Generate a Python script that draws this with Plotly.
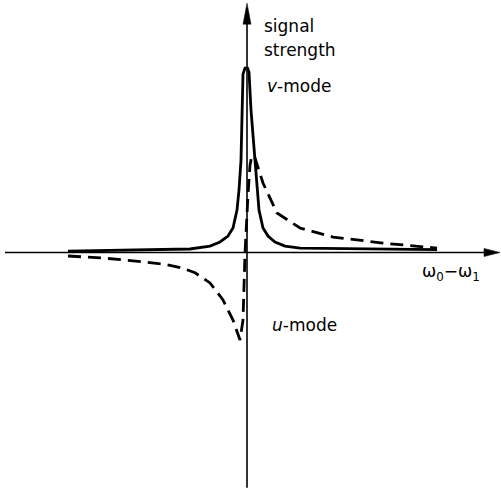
import plotly.graph_objects as go

# Frequency offset (arbitrary units) and signal strength (peak = 1)
v_offset = [-17.9, -13.7, -9.7, -5.7, -3.7, -2.7, -1.9, -1.4, -1.0, -0.8, -0.6, -0.5,
            -0.4, -0.2, 0.05, 0.2, 0.4, 0.8, 1.0, 1.2, 1.6, 2.1, 2.8, 3.8, 5.3, 10.3, 15.3, 19.0]
v_signal = [0.008, 0.011, 0.014, 0.019, 0.035, 0.057, 0.089, 0.133, 0.230, 0.339, 0.501, 0.718,
            0.967, 1.0, 1.0, 0.978, 0.772, 0.501, 0.339, 0.230, 0.133, 0.089, 0.057, 0.035,
            0.024, 0.022, 0.019, 0.016]

u_offset = [-17.9, -14.4, -10.4, -8.0, -6.5, -5.2, -3.7, -2.4, -1.4, -0.9, -0.7, -0.4, -0.2,
            0.1, 0.3, 0.5, 0.8, 1.6, 3.0, 5.3, 8.6, 13.6, 19.0]
u_signal = [-0.019, -0.030, -0.050, -0.066, -0.084, -0.110, -0.165, -0.257, -0.366, -0.447,
            -0.474, -0.366, -0.003, 0.312, 0.474, 0.528, 0.512, 0.377, 0.214, 0.133, 0.084,
            0.051, 0.024]

X_RANGE = [-24.7, 25.4]
Y_RANGE = [-1.293, 1.369]
FONT = "DejaVu Sans"

fig = go.Figure()
fig.add_trace(go.Scatter(x=v_offset, y=v_signal, mode="lines",
                         line=dict(color="black", width=2.8), hoverinfo="skip"))
fig.add_trace(go.Scatter(x=u_offset, y=u_signal, mode="lines",
                         line=dict(color="black", width=2.8, dash="13px,7px"), hoverinfo="skip"))

# Axes with arrowheads
ax_col = "black"
fig.add_shape(type="line", x0=-24.2, x1=24.0, y0=0, y1=0, line=dict(color=ax_col, width=1.6))
fig.add_shape(type="line", x0=0, x1=0, y0=-1.276, y1=1.25, line=dict(color=ax_col, width=1.6))
fig.add_shape(type="path", path="M 23.7,0.022 L 25.3,0 L 23.7,-0.022 Z",
              fillcolor=ax_col, line=dict(color=ax_col, width=0.5))
fig.add_shape(type="path", path="M -0.4,1.238 L 0,1.352 L 0.4,1.238 Z",
              fillcolor=ax_col, line=dict(color=ax_col, width=0.5))

def label(text, x, y):
    fig.add_annotation(x=x, y=y, text=text, showarrow=False, xanchor="left", yanchor="middle",
                       font=dict(family=FONT, size=17, color="black"))

label("signal", 1.5, 1.228)
label("strength", 1.5, 1.098)
label("<i>v</i>-mode", 1.8, 0.902)
label("<i>u</i>-mode", 2.3, -0.393)
label("ω<sub>0</sub>−ω<sub>1</sub>", 17.3, -0.106)

fig.update_layout(
    width=501, height=491, margin=dict(l=0, r=0, t=0, b=0),
    paper_bgcolor="white", plot_bgcolor="white", showlegend=False,
    xaxis=dict(range=X_RANGE, visible=False, fixedrange=True),
    yaxis=dict(range=Y_RANGE, visible=False, fixedrange=True),
)
fig.write_html("out.html")
